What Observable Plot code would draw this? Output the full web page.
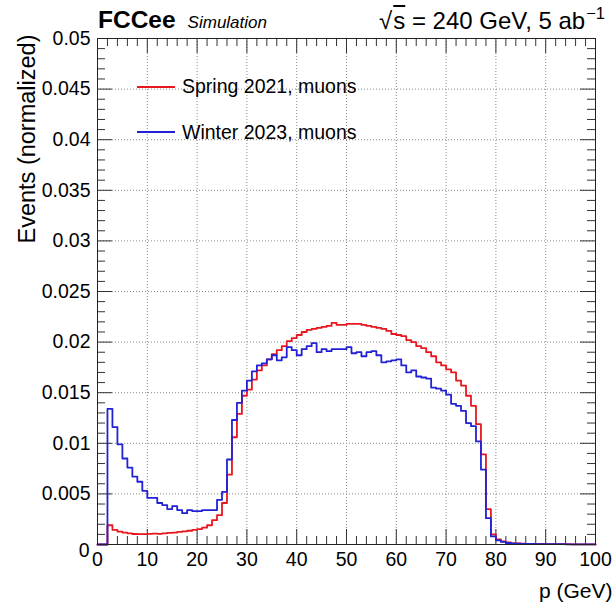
<!DOCTYPE html>
<html>
<head>
<meta charset="utf-8">
<script src="https://cdn.jsdelivr.net/npm/d3@7"></script>
<script src="https://cdn.jsdelivr.net/npm/@observablehq/plot@0.6"></script>
<style>
  html, body { margin: 0; padding: 0; background: #fff; }
  #wrap { position: relative; width: 613px; height: 603px; font-family: "Liberation Sans", Arial, Helvetica, sans-serif; color: #000; }
  .ov { position: absolute; white-space: nowrap; line-height: 24px; }
  .leg { position: absolute; display: flex; align-items: center; height: 20px; font-size: 19.5px; white-space: nowrap; }
  .leg .sw { display: inline-block; width: 38px; height: 2px; margin-right: 7px; }
</style>
</head>
<body>
<div id="wrap"></div>
<script>
// Histogram bins: 1 GeV wide, lower edges 0..99
const binWidth = 1;
const binLow = d3.range(0, 100, binWidth);

// Spring 2021, muons (red)
const spring2021 = [
  0, 0, 0.0019, 0.00145, 0.00128, 0.00118, 0.0011, 0.00104, 0.00102, 0.00102,
  0.00105, 0.00108, 0.00105, 0.0011, 0.00114, 0.00118, 0.00124, 0.0013, 0.00136, 0.00144,
  0.00152, 0.00166, 0.0019, 0.0024, 0.0029, 0.0041, 0.0069, 0.0106, 0.0129, 0.0147,
  0.0153, 0.0163, 0.0172, 0.0177, 0.0183, 0.0188, 0.0192, 0.0196, 0.0201, 0.0204,
  0.0207, 0.0210, 0.0212, 0.0213, 0.0214, 0.0215, 0.0216, 0.0219, 0.0217, 0.0217,
  0.0218, 0.0218, 0.0218, 0.0217, 0.0216, 0.0215, 0.0214, 0.0213, 0.0211, 0.0208,
  0.0207, 0.0206, 0.0202, 0.0200, 0.0196, 0.0194, 0.0190, 0.0186, 0.0180, 0.0177,
  0.0173, 0.0170, 0.0162, 0.0157, 0.0147, 0.0137, 0.0119, 0.0089, 0.0035, 0.0010,
  0.0005, 0.0003, 0.0002, 0.00012, 0.0001, 0.00008, 0.00007, 0.00006, 0.00005, 0.00005,
  0.00004, 0.00004, 0.00003, 0.00003, 0.00003, 0.00002, 0.00002, 0.00002, 0.00002, 0.00001
];

// Winter 2023, muons (blue)
const winter2023 = [
  0, 0, 0.0134, 0.0116, 0.0099, 0.0085, 0.0076, 0.0067, 0.0062, 0.0053,
  0.0046, 0.0046, 0.0041, 0.0039, 0.0035, 0.0038, 0.0034, 0.0031, 0.0034, 0.0033,
  0.0033, 0.0034, 0.0034, 0.0034, 0.0044, 0.0052, 0.0084, 0.0123, 0.0140, 0.0152,
  0.0162, 0.0171, 0.0177, 0.0179, 0.0183, 0.0187, 0.0182, 0.0185, 0.0195, 0.0192,
  0.0187, 0.0193, 0.0196, 0.0199, 0.0190, 0.0193, 0.0191, 0.0193, 0.0193, 0.0193,
  0.0195, 0.0189, 0.0190, 0.0186, 0.0190, 0.0191, 0.0187, 0.0180, 0.0181, 0.0182,
  0.0183, 0.0177, 0.0170, 0.0172, 0.0166, 0.0165, 0.0164, 0.0155, 0.0154, 0.0152,
  0.0148, 0.0139, 0.0137, 0.0132, 0.0120, 0.0117, 0.0102, 0.0074, 0.0026, 0.0008,
  0.0004, 0.00025, 0.00015, 0.0001, 0.00008, 0.00006, 0.00006, 0.00005, 0.00004, 0.00004,
  0.00004, 0.00003, 0.00003, 0.00003, 0.00002, 0.00002, 0.00002, 0.00002, 0.00001, 0.00001
];

const seriesNames = ["Spring 2021, muons", "Winter 2023, muons"];
const seriesColors = ["#e8171f", "#2222d4"];

// Axis ticks
const xMajorTicks = [0, 10, 20, 30, 40, 50, 60, 70, 80, 90, 100];
const xMinorTicks = [2, 4, 6, 8, 12, 14, 16, 18, 22, 24, 26, 28, 32, 34, 36, 38, 42, 44, 46, 48,
  52, 54, 56, 58, 62, 64, 66, 68, 72, 74, 76, 78, 82, 84, 86, 88, 92, 94, 96, 98];
const yMajorTicks = [0, 0.005, 0.01, 0.015, 0.02, 0.025, 0.03, 0.035, 0.04, 0.045, 0.05];
const yMinorTicks = d3.range(0, 51).filter(i => i % 5 !== 0).map(i => i / 1000);
const xGridTicks = [10, 20, 30, 40, 50, 60, 70, 80, 90];
const yGridTicks = [0.005, 0.01, 0.015, 0.02, 0.025, 0.03, 0.035, 0.04, 0.045];

const xTitle = "p (GeV)";
const yTitle = "Events (normalized)";

// Step-line points: each bin's lower edge, plus the closing upper edge
function steps(vals) {
  const pts = binLow.map((lo, i) => ({x: lo, y: vals[i]}));
  pts.push({x: binLow[binLow.length - 1] + binWidth, y: vals[vals.length - 1]});
  return pts;
}

const W = 613, H = 603, mL = 97, mR = 18, mT = 38, mB = 59;
const fw = W - mL - mR, fh = H - mT - mB;
const tickCol = "#333";

const chart = Plot.plot({
  width: W, height: H,
  marginLeft: mL, marginRight: mR, marginTop: mT, marginBottom: mB,
  style: {fontFamily: "'Liberation Sans', Arial, Helvetica, sans-serif", fontSize: "19.5px", color: "#000", background: "#fff", overflow: "visible"},
  x: {domain: [0, 100]},
  y: {domain: [0, 0.05]},
  marks: [
    Plot.gridX(xGridTicks, {stroke: "#8a8a8a", strokeOpacity: 1, strokeDasharray: "1,2", strokeWidth: 1}),
    Plot.gridY(yGridTicks, {stroke: "#8a8a8a", strokeOpacity: 1, strokeDasharray: "1,2", strokeWidth: 1}),
    // inward ticks, bottom & top
    Plot.tickX(xMajorTicks, {x: d => d, insetTop: fh - 15, stroke: tickCol, strokeWidth: 1}),
    Plot.tickX(xMinorTicks, {x: d => d, insetTop: fh - 8, stroke: tickCol, strokeWidth: 1}),
    Plot.tickX(xMajorTicks, {x: d => d, insetBottom: fh - 15, stroke: tickCol, strokeWidth: 1}),
    Plot.tickX(xMinorTicks, {x: d => d, insetBottom: fh - 8, stroke: tickCol, strokeWidth: 1}),
    // inward ticks, left & right
    Plot.tickY(yMajorTicks, {y: d => d, insetRight: fw - 15, stroke: tickCol, strokeWidth: 1}),
    Plot.tickY(yMinorTicks, {y: d => d, insetRight: fw - 8, stroke: tickCol, strokeWidth: 1}),
    Plot.tickY(yMajorTicks, {y: d => d, insetLeft: fw - 15, stroke: tickCol, strokeWidth: 1}),
    Plot.tickY(yMinorTicks, {y: d => d, insetLeft: fw - 8, stroke: tickCol, strokeWidth: 1}),
    // histograms
    Plot.line(steps(spring2021), {x: "x", y: "y", curve: "step-after", stroke: seriesColors[0], strokeWidth: 1.8}),
    Plot.line(steps(winter2023), {x: "x", y: "y", curve: "step-after", stroke: seriesColors[1], strokeWidth: 1.8}),
    Plot.frame({stroke: "#222", strokeWidth: 1}),
    // tick labels
    Plot.axisX({ticks: xMajorTicks, tickSize: 0, tickPadding: 8, tickFormat: d => String(d), label: null, fontSize: 19.5}),
    Plot.axisY({ticks: yMajorTicks.filter(d => d > 0), tickSize: 0, tickPadding: 7, tickFormat: d => String(+d.toFixed(3)), label: null, fontSize: 19.5}),
    Plot.axisY({ticks: [0], tickSize: 0, tickPadding: 8, tickFormat: d => String(d), label: null, fontSize: 19.5, dy: 6}),
    // axis titles
    Plot.text([xTitle], {frameAnchor: "bottom-right", textAnchor: "end", lineAnchor: "bottom", dx: 17, dy: 53, fontSize: 21}),
    Plot.text([yTitle], {frameAnchor: "top-left", rotate: -90, textAnchor: "end", lineAnchor: "bottom", dx: -63, dy: -4, fontSize: 23.5})
  ]
});

const wrap = document.getElementById("wrap");
wrap.appendChild(chart);

// Header (above the frame)
const hl = document.createElement("div");
hl.className = "ov";
hl.style.left = "98px"; hl.style.top = "8px";
hl.innerHTML = '<span style="font-weight:bold;font-size:24.5px">FCCee</span><span style="font-style:italic;font-size:17px;margin-left:12px">Simulation</span>';
wrap.appendChild(hl);

const hr = document.createElement("div");
hr.className = "ov";
hr.style.right = "8px"; hr.style.top = "9px"; hr.style.fontSize = "24px";
hr.innerHTML = '√<span style="text-decoration:overline;margin-left:1px">s</span> = 240 GeV, 5 ab<span style="font-size:16.5px;position:relative;top:-10px;margin-left:1px">−1</span>';
wrap.appendChild(hr);

// Legend
const legTops = [76.5, 122];
seriesNames.forEach((name, i) => {
  const d = document.createElement("div");
  d.className = "leg";
  d.style.left = "137px"; d.style.top = legTops[i] + "px";
  d.innerHTML = '<span class="sw" style="background:' + seriesColors[i] + '"></span><span>' + name + '</span>';
  wrap.appendChild(d);
});
</script>
</body>
</html>
